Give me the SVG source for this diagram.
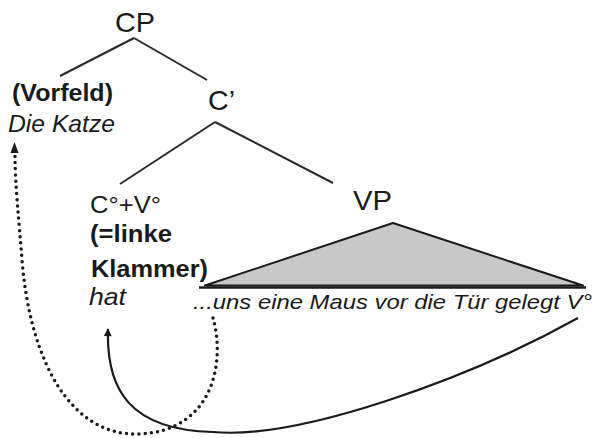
<svg xmlns="http://www.w3.org/2000/svg" width="594" height="438" viewBox="0 0 594 438">
  <defs>
    <marker id="head" viewBox="0 0 10 10" refX="9" refY="5" markerWidth="9" markerHeight="8" markerUnits="userSpaceOnUse" orient="auto">
      <path d="M0,0 L10,5 L0,10 Z" fill="#1a1a1a"/>
    </marker>
    <style>
      text { font-family: "Liberation Sans", Arial, sans-serif; fill: #1a1a1a; }
      .cat { font-size: 28px; }
      .lbl { font-size: 24px; }
      .b { font-weight: bold; }
      .i { font-style: italic; }
      .branch { stroke: #2a2a2a; stroke-width: 2; fill: none; }
      .move { stroke: #1a1a1a; stroke-width: 2.2; fill: none; }
      .trace { stroke: #1a1a1a; stroke-width: 3.5; fill: none; stroke-linecap: round; stroke-dasharray: 0 6.2; }
    </style>
  </defs>
  <rect width="594" height="438" fill="#ffffff"/>

  <!-- tree branches and movement arrows -->
  <g id="connectors">
    <line class="branch" x1="134" y1="38" x2="60" y2="76"/>
    <line class="branch" x1="134" y1="38" x2="207" y2="80"/>
    <line class="branch" x1="215" y1="122" x2="120" y2="184"/>
    <line class="branch" x1="215" y1="122" x2="333" y2="183"/>
    <!-- finite verb moves from V° up to C° -->
    <path class="move" d="M578,318 C470,378 300,440 213,432 C130,430 106,390 108,329" marker-end="url(#head)"/>
    <!-- subject moves from the middle field up to the Vorfeld -->
    <path class="trace" d="M213,318 C225,360 215,430 140,434 C70,437 30,360 22,260 C19,220 15,185 15,155"/>
    <path d="M10.5,153 L14.5,142 L18.5,153 Z" fill="#1a1a1a"/>
  </g>

  <g id="cp">
    <text class="cat" x="115" y="32" textLength="40" lengthAdjust="spacingAndGlyphs">CP</text>
  </g>

  <g id="vorfeld">
    <text class="lbl b" x="12" y="101" textLength="101" lengthAdjust="spacingAndGlyphs">(Vorfeld)</text>
    <text class="lbl i" x="8" y="132" textLength="107" lengthAdjust="spacingAndGlyphs">Die Katze</text>
  </g>

  <g id="cbar">
    <text class="cat" x="208" y="110" textLength="27" lengthAdjust="spacingAndGlyphs">C’</text>
  </g>

  <g id="c0">
    <text class="lbl" x="90" y="213" textLength="71" lengthAdjust="spacingAndGlyphs">C°+V°</text>
    <text class="lbl b" x="90" y="242" textLength="82" lengthAdjust="spacingAndGlyphs">(=linke</text>
    <text class="lbl b" x="91" y="277" textLength="117" lengthAdjust="spacingAndGlyphs">Klammer)</text>
    <text class="lbl i" x="89" y="305" textLength="37" lengthAdjust="spacingAndGlyphs">hat</text>
  </g>

  <g id="vp">
    <text class="cat" x="353" y="210" textLength="39" lengthAdjust="spacingAndGlyphs">VP</text>
    <polygon points="393,223 205,285.5 583,285.5" fill="#c8c8c8" stroke="#1a1a1a" stroke-width="2" stroke-linejoin="round"/>
    <line x1="199" y1="287.5" x2="586" y2="287.5" stroke="#1a1a1a" stroke-width="2.5"/>
    <text class="i" style="font-size:21px" x="193" y="309" textLength="399" lengthAdjust="spacingAndGlyphs">...uns eine Maus vor die Tür gelegt V°</text>
  </g>
</svg>
